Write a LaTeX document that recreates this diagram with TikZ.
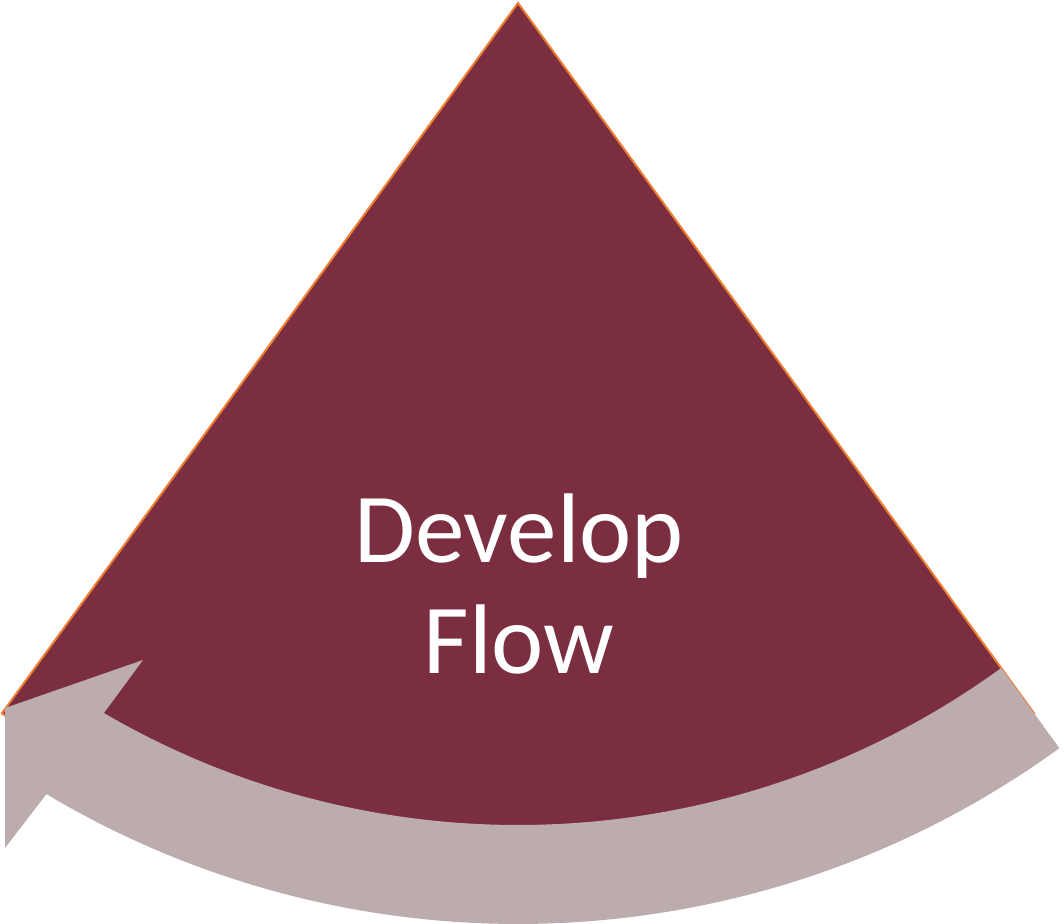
\documentclass[tikz,border=0pt]{standalone}
\usepackage{fontspec}
\setmainfont{Carlito}
\usetikzlibrary{calc}
\definecolor{maroon}{HTML}{7A2E40}
\definecolor{arrowgray}{HTML}{BCACAD}
\definecolor{edgeorange}{HTML}{ED7D31}
\begin{document}
\begin{tikzpicture}[x=1pt,y=-1pt,
  sector/.style={fill=maroon,draw=edgeorange,line width=2pt,line join=miter},
  band/.style={fill=arrowgray,draw=none},
  label/.style={text=white,font=\fontsize{99}{112}\selectfont,inner sep=0pt,anchor=base}]
\useasboundingbox (0,0) rectangle (1064,923);
\coordinate (C) at (518,3);
% sector
\path[sector] (C) -- ++(126:878) arc[start angle=126,end angle=54,radius=878] -- cycle;
% curved arrow
\path[band] ($(C)+(54:822)$) arc[start angle=54,end angle=120.25,radius=822]
  -- (143,660) -- (5,708) -- (5,848) -- ($(C)+(120.8:921)$)
  arc[start angle=120.8,end angle=54,radius=921] -- cycle;
\node[label] (t1) at (519,562) {Develop};
\node[label] (t2) at (519,673) {Flow};
\end{tikzpicture}
\end{document}
